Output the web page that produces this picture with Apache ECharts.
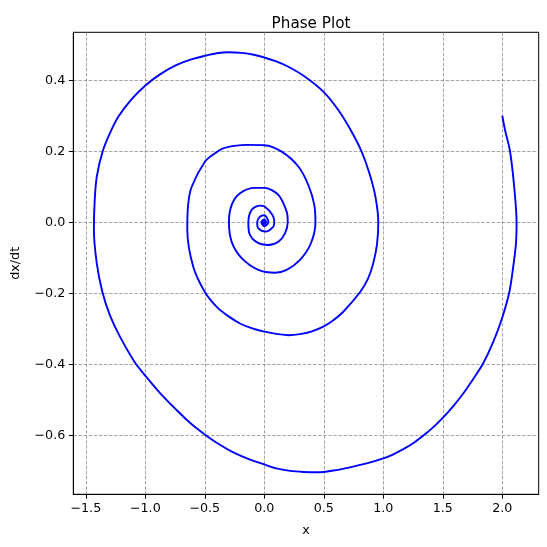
<!DOCTYPE html>
<html>
<head>
<meta charset="utf-8">
<script src="https://cdn.jsdelivr.net/npm/echarts@6/dist/echarts.min.js"></script>
<style>
html,body{margin:0;padding:0;background:#fff;}
#chart{width:547px;height:547px;}
</style>
</head>
<body>
<div id="chart"></div>
<script>
// Phase trajectory
const phaseX = [
  2.0, 2.023, 2.065, 2.10, 2.12, 2.115, 2.09, 2.059, 2.0, 1.924, 1.84,
  1.76, 1.672, 1.59, 1.5, 1.43, 1.35, 1.26, 1.168, 1.08, 1.0, 0.86, 0.72, 0.58, 0.45,
  0.33, 0.216, 0.1, 0.0, -0.13, -0.26, -0.38, -0.498, -0.62, -0.736, -0.87, -0.997,
  -1.087, -1.213, -1.297, -1.36, -1.408, -1.432, -1.425, -1.408,
  -1.358, -1.297, -1.227, -1.12, -0.997, -0.87, -0.736, -0.62, -0.498, -0.4, -0.303, -0.19,
  -0.078, 0.0, 0.1, 0.202, 0.342,
  0.496, 0.622, 0.734, 0.818, 0.888, 0.936, 0.958, 0.948, 0.916, 0.87, 0.804, 0.664, 0.58,
  0.496, 0.4, 0.3, 0.202, 0.0, -0.1, -0.204, -0.3, -0.40, -0.498, -0.597, -0.647, -0.64, -0.61,
  -0.498, -0.42, -0.345, -0.25,
  -0.148, 0.0, 0.146, 0.286, 0.37, 0.42, 0.43, 0.392, 0.3, 0.188, 0.09,
  -0.05, -0.19, -0.274, -0.297, -0.274, -0.204, -0.078, 0.0, 0.118, 0.188, 0.197,
  0.174, 0.118, 0.034, -0.064, -0.126, -0.134, -0.106, -0.036, 0.0, 0.07, 0.084,
  0.076, 0.012, -0.05, -0.06, -0.036, 0.0, 0.035, 0.0, -0.025, 0.0,
  0.015, 0.0, -0.008, 0.0, 0.0
];
const phaseY = [
  0.30, 0.26, 0.20, 0.10, 0.0, -0.06, -0.13, -0.197, -0.268, -0.337, -0.397,
  -0.439, -0.482, -0.517, -0.551, -0.574, -0.597, -0.62, -0.639, -0.654, -0.665, -0.679, -0.69, -0.699, -0.704,
  -0.703, -0.70, -0.693, -0.682, -0.667, -0.648, -0.625, -0.598, -0.566, -0.529, -0.483, -0.433,
  -0.395, -0.322, -0.262, -0.197, -0.115, -0.02, 0.063, 0.128,
  0.2, 0.251, 0.297, 0.345, 0.386, 0.418, 0.443, 0.458, 0.469, 0.476, 0.479, 0.477,
  0.471, 0.464, 0.453, 0.438, 0.41,
  0.368, 0.316, 0.255, 0.199, 0.133, 0.068, 0.0, -0.06, -0.115, -0.16, -0.197, -0.252, -0.276,
  -0.294, -0.307, -0.315, -0.318, -0.308, -0.299, -0.285, -0.265, -0.238, -0.197, -0.125, -0.02, 0.05, 0.1,
  0.171, 0.193, 0.208, 0.215,
  0.218, 0.217, 0.199, 0.157, 0.105, 0.049, 0.0, -0.059, -0.106, -0.134, -0.142,
  -0.134, -0.101, -0.055, 0.0, 0.049, 0.082, 0.097, 0.097, 0.077, 0.03, 0.0,
  -0.031, -0.055, -0.064, -0.056, -0.031, 0.0, 0.035, 0.047, 0.045, 0.02, 0.0,
  -0.012, -0.026, -0.017, 0.0, 0.016, 0.02, 0.0, -0.011, 0.0, 0.008,
  0.0, -0.005, 0.0, 0.002, 0.0
];
const xTicks = [-1.5, -1.0, -0.5, 0.0, 0.5, 1.0, 1.5, 2.0];
const yTicks = [-0.6, -0.4, -0.2, 0.0, 0.2, 0.4];
const titleText = 'Phase Plot';
const xName = 'x';
const yName = 'dx/dt';

const points = phaseX.map((x, i) => [x, phaseY[i]]);
const fmt = v => v.toFixed(1).replace('-', '\u2212');
const FONT = 'DejaVu Sans';

const chart = echarts.init(document.getElementById('chart'), null, {renderer: 'canvas'});
chart.setOption({
  animation: false,
  backgroundColor: '#fff',
  title: {
    text: titleText,
    left: 306, textAlign: 'center',
    top: 11,
    textStyle: {fontFamily: FONT, fontSize: 15.2, fontWeight: 'normal', color: '#000', lineHeight: 16}
  },
  grid: {
    left: 73.3, right: 8.3, top: 32.3, bottom: 52.7,
    show: true, borderColor: '#000', borderWidth: 1, backgroundColor: 'transparent'
  },
  xAxis: {
    type: 'value', min: -1.605, max: 2.306,
    name: xName, nameLocation: 'middle', nameGap: 30,
    nameTextStyle: {fontFamily: FONT, fontSize: 12.7, color: '#000'},
    axisLine: {show: true, onZero: false, lineStyle: {color: '#000', width: 1}},
    axisTick: {show: true, customValues: xTicks, length: 4.4, lineStyle: {color: '#000', width: 1}},
    axisLabel: {customValues: xTicks, formatter: fmt, margin: 8, fontFamily: FONT, fontSize: 12.7, color: '#000'},
    splitLine: {show: true, lineStyle: {color: '#808080', width: 0.7, type: [3.5, 1.6]}}
  },
  yAxis: {
    type: 'value', min: -0.766, max: 0.535,
    name: yName, nameLocation: 'middle', nameGap: 51, nameRotate: 90,
    nameTextStyle: {fontFamily: FONT, fontSize: 12.7, color: '#000'},
    axisLine: {show: true, onZero: false, lineStyle: {color: '#000', width: 1}},
    axisTick: {show: true, customValues: yTicks, length: 4.4, lineStyle: {color: '#000', width: 1}},
    axisLabel: {customValues: yTicks, formatter: fmt, margin: 8, fontFamily: FONT, fontSize: 12.7, color: '#000'},
    splitLine: {show: true, lineStyle: {color: '#808080', width: 0.7, type: [3.5, 1.6]}}
  },
  series: [{
    type: 'line',
    data: points,
    showSymbol: false,
    smooth: 0.3,
    clip: true,
    lineStyle: {color: '#0000ff', width: 1.9},
    itemStyle: {color: '#0000ff'}
  }]
});
</script>
</body>
</html>
